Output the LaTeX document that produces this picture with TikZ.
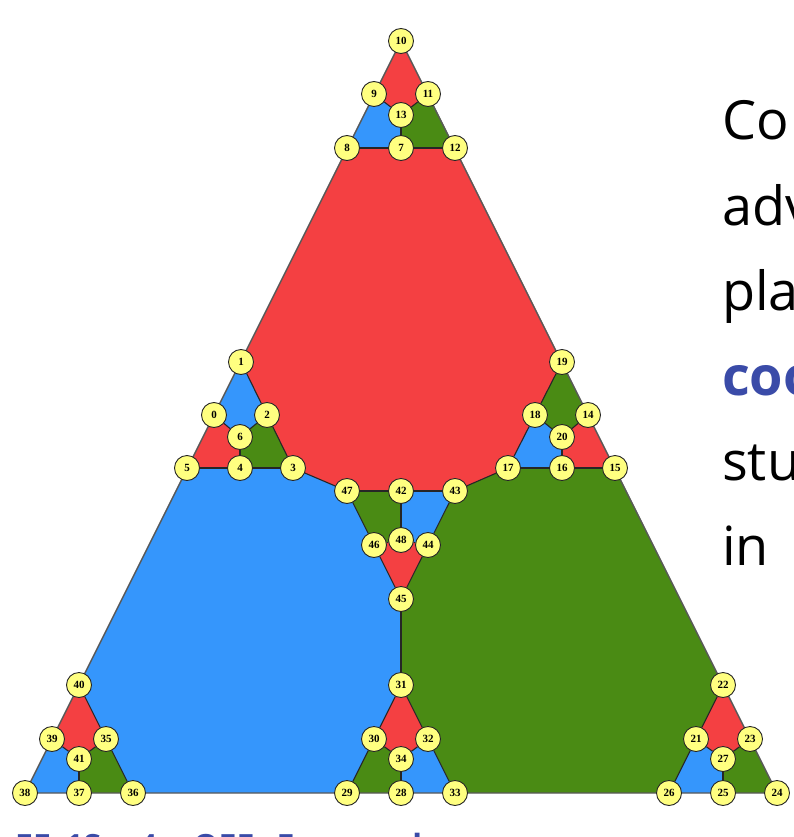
\documentclass[tikz,border=0pt]{standalone}
\usepackage{fontspec}
\setmainfont{Liberation Serif}
\newfontfamily\sansf{Open Sans}
\definecolor{cred}{RGB}{244,64,66}
\definecolor{cblue}{RGB}{53,150,252}
\definecolor{cgreen}{RGB}{74,139,20}
\definecolor{cyel}{RGB}{255,255,128}
\definecolor{ctxtblue}{RGB}{58,75,168}
\tikzset{
  vert/.style={circle, fill=cyel, draw=black!85, line width=0.9pt, minimum size=25pt, inner sep=0pt,
    font=\bfseries\fontsize{11}{11}\selectfont},
  bedge/.style={draw=black!85, line width=1.1pt},
  outer/.style={draw=black!65, line width=1.4pt, line join=round},
  region/.style={line join=round},
  slide/.style={anchor=base west, inner sep=0pt, font=\sansf\fontsize{54}{54}\selectfont}
}
\begin{document}
\begin{tikzpicture}[x=1pt,y=-1pt]
\useasboundingbox (0,0) rectangle (794,837);
\clip (0,0) rectangle (794,837);
% coordinates
\coordinate (c10) at (401,41);
\coordinate (c9) at (374,94);
\coordinate (c11) at (428,94);
\coordinate (c13) at (401,115);
\coordinate (c8) at (347,148);
\coordinate (c7) at (401,148);
\coordinate (c12) at (455,148);
\coordinate (c1) at (241,362);
\coordinate (c0) at (214,415);
\coordinate (c2) at (267,415);
\coordinate (c6) at (240,437);
\coordinate (c5) at (187,468);
\coordinate (c4) at (240,468);
\coordinate (c3) at (293,468);
\coordinate (c19) at (562,362);
\coordinate (c18) at (535,415);
\coordinate (c14) at (588,415);
\coordinate (c20) at (562,437);
\coordinate (c17) at (508,468);
\coordinate (c16) at (562,468);
\coordinate (c15) at (615,468);
\coordinate (c47) at (347,491);
\coordinate (c42) at (401,491);
\coordinate (c43) at (455,491);
\coordinate (c46) at (374,545);
\coordinate (c48) at (401,540);
\coordinate (c44) at (428,545);
\coordinate (c45) at (401,599);
\coordinate (c40) at (79,685);
\coordinate (c39) at (52,739);
\coordinate (c35) at (106,739);
\coordinate (c41) at (79,759);
\coordinate (c38) at (25,793);
\coordinate (c37) at (79,793);
\coordinate (c36) at (133,793);
\coordinate (c31) at (401,685);
\coordinate (c30) at (374,739);
\coordinate (c32) at (428,739);
\coordinate (c34) at (401,759);
\coordinate (c29) at (347,793);
\coordinate (c28) at (401,793);
\coordinate (c33) at (455,793);
\coordinate (c22) at (723,685);
\coordinate (c21) at (696,739);
\coordinate (c23) at (750,739);
\coordinate (c27) at (723,759);
\coordinate (c26) at (669,793);
\coordinate (c25) at (723,793);
\coordinate (c24) at (777,793);
% big regions
\fill[cred,region] (c8)--(c7)--(c12)--(c19)--(c18)--(c17)--(c43)--(c42)--(c47)--(c3)--(c2)--(c1)--cycle;
\fill[cblue,region] (c5)--(c4)--(c3)--(c47)--(c46)--(c45)--(c31)--(c30)--(c29)--(c36)--(c35)--(c40)--cycle;
\fill[cgreen,region] (c17)--(c16)--(c15)--(c22)--(c21)--(c26)--(c33)--(c32)--(c31)--(c45)--(c44)--(c43)--cycle;
% top cluster
\fill[cred,region] (c10)--(c11)--(c13)--(c9)--cycle;
\fill[cblue,region] (c9)--(c13)--(c7)--(c8)--cycle;
\fill[cgreen,region] (c11)--(c12)--(c7)--(c13)--cycle;
% left cluster
\fill[cblue,region] (c1)--(c2)--(c6)--(c0)--cycle;
\fill[cred,region] (c0)--(c6)--(c4)--(c5)--cycle;
\fill[cgreen,region] (c2)--(c3)--(c4)--(c6)--cycle;
% right cluster
\fill[cgreen,region] (c19)--(c14)--(c20)--(c18)--cycle;
\fill[cblue,region] (c18)--(c20)--(c16)--(c17)--cycle;
\fill[cred,region] (c14)--(c15)--(c16)--(c20)--cycle;
% center cluster
\fill[cgreen,region] (c47)--(c42)--(c48)--(c46)--cycle;
\fill[cblue,region] (c42)--(c43)--(c44)--(c48)--cycle;
\fill[cred,region] (c46)--(c48)--(c44)--(c45)--cycle;
% bottom-left cluster
\fill[cred,region] (c40)--(c35)--(c41)--(c39)--cycle;
\fill[cblue,region] (c39)--(c41)--(c37)--(c38)--cycle;
\fill[cgreen,region] (c35)--(c36)--(c37)--(c41)--cycle;
% bottom-middle cluster
\fill[cred,region] (c31)--(c32)--(c34)--(c30)--cycle;
\fill[cgreen,region] (c30)--(c34)--(c28)--(c29)--cycle;
\fill[cblue,region] (c32)--(c33)--(c28)--(c34)--cycle;
% bottom-right cluster
\fill[cred,region] (c22)--(c23)--(c27)--(c21)--cycle;
\fill[cblue,region] (c21)--(c27)--(c25)--(c26)--cycle;
\fill[cgreen,region] (c23)--(c24)--(c25)--(c27)--cycle;
% outer triangle
\draw[outer] (c10)--(c38)--(c24)--cycle;
% nodes
\foreach \i in {0,...,48} { \node[vert] (n\i) at (c\i) {\i}; }
% boundaries
\foreach \a/\b in {9/13,11/13,13/7,8/7,7/12,
  1/2,2/6,0/6,6/4,2/3,5/4,4/3,
  19/18,18/20,14/20,20/16,18/17,17/16,16/15,
  3/47,47/42,42/43,43/17,47/46,42/48,43/44,46/48,48/44,46/45,44/45,45/31,
  40/35,39/41,35/41,41/37,35/36,
  31/30,31/32,30/34,32/34,34/28,30/29,32/33,
  22/21,21/27,23/27,27/25,21/26}
  { \draw[bedge] (n\a)--(n\b); }
% slide text
\node[slide] (t1) at (722,140) {Co};
\node[slide] (t2) at (722,225) {adv};
\node[slide] (t3) at (722,310) {pla};
\node[slide, text=ctxtblue, font=\sansf\bfseries\fontsize{54}{54}\selectfont] (t4) at (722,395) {coo};
\node[slide] (t5) at (722,480) {stu};
\node[slide] (t6) at (722,565) {in};
\node[anchor=base west, inner sep=0pt, text=ctxtblue, font=\sansf\bfseries\fontsize{32}{32}\selectfont] (t7) at (15,857) {EE\hspace{14pt}1S\hspace{38pt}4\hspace{36pt}OEE\hspace{22pt}E\hspace{118pt}lo\hspace{30pt}o};
\end{tikzpicture}
\end{document}
